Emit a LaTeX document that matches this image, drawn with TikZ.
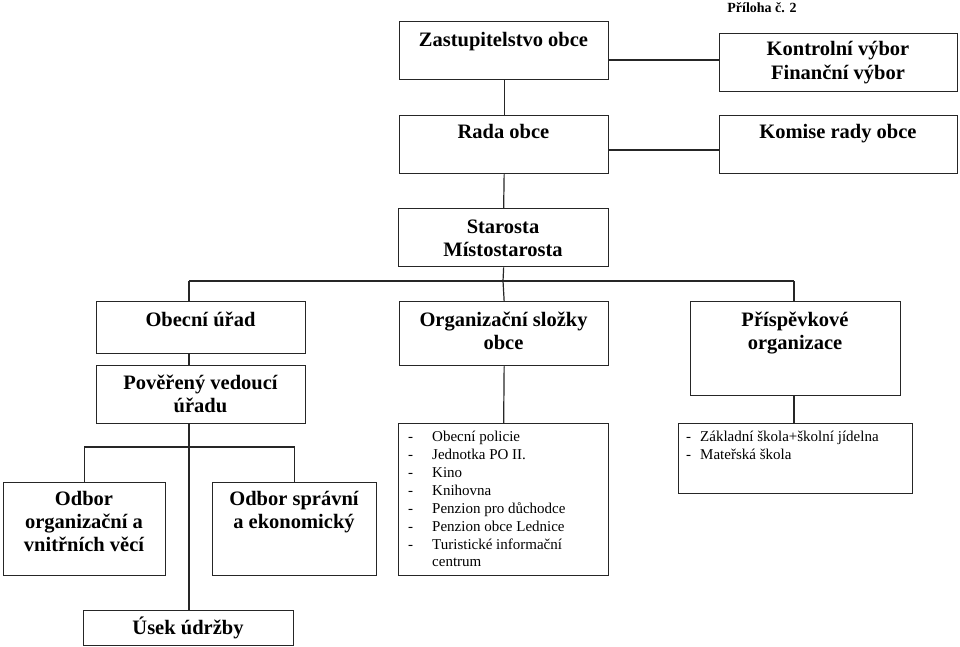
\documentclass[tikz,border=0pt]{standalone}
\usepackage{fontspec}
\setmainfont{Liberation Serif}
\begin{document}
\begin{tikzpicture}[x=1pt,y=-1pt,
  box/.style={draw=black!85,line width=1.3pt,inner sep=0pt,anchor=north west,fill=white},
  ttl/.style={font=\fontsize{20.5}{23}\selectfont\bfseries,anchor=base,inner sep=0pt},
  lst/.style={font=\fontsize{15}{17.9}\selectfont,anchor=north west,inner sep=0pt,align=left},
  con/.style={draw=black!85,line width=1.2pt}]
\useasboundingbox (0,0) rectangle (960,647);
% boxes
\node[box,minimum width=209pt,minimum height=58pt] (zast) at (399,21) {};
\node[box,minimum width=238pt,minimum height=58pt] (kontr) at (719,33) {};
\node[box,minimum width=209pt,minimum height=58pt] (rada) at (399,115) {};
\node[box,minimum width=238pt,minimum height=58pt] (komise) at (719,115) {};
\node[box,minimum width=210pt,minimum height=58pt] (staro) at (398,208) {};
\node[box,minimum width=209pt,minimum height=52pt] (obec) at (96,301) {};
\node[box,minimum width=209pt,minimum height=64pt] (orgs) at (399,301) {};
\node[box,minimum width=210pt,minimum height=94pt] (prisp) at (690,301) {};
\node[box,minimum width=209pt,minimum height=58pt] (pov) at (96,365) {};
\node[box,minimum width=162pt,minimum height=93pt] (odbo) at (3,482) {};
\node[box,minimum width=164pt,minimum height=93pt] (odbs) at (212,482) {};
\node[box,minimum width=210pt,minimum height=152pt] (orglist) at (398,423) {};
\node[box,minimum width=234pt,minimum height=70pt] (prlist) at (678,423) {};
\node[box,minimum width=210pt,minimum height=35pt] (usek) at (83,610) {};
% coordinates of connector bends
\coordinate (bus) at (503,281);
\coordinate (busL) at (189,281);
\coordinate (busR) at (794,281);
\coordinate (sub) at (189,447);
% connectors
\draw[con] (zast.south) -- (rada.north);
\draw[con] (rada.south) -- (staro.north);
\draw[con] (zast.east |- 0,60) -- (kontr.west |- 0,60);
\draw[con] (rada.east |- 0,150) -- (komise.west |- 0,150);
\draw[con] (staro.south) -- (bus);
\draw[con] (busL) -- (busR);
\draw[con] (busL) -- (busL |- obec.north);
\draw[con] (bus) -- (orgs.north);
\draw[con] (busR) -- (busR |- prisp.north);
\draw[con] (busL |- obec.south) -- (busL |- pov.north);
\draw[con] (busL |- pov.south) -- (busL |- usek.north);
\draw[con] (odbo.north) |- (sub) -| (odbs.north);
\draw[con] (orgs.south) -- (orglist.north);
\draw[con] (busR |- prisp.south) -- (busR |- prlist.north);
% texts
\node[font=\fontsize{14}{16}\selectfont\bfseries,anchor=base,inner sep=0pt] (pril) at (762,13) {Příloha č. 2};
\node[ttl] (t1) at (503.5,47) {Zastupitelstvo obce};
\node[ttl] (t2) at (838,56) {Kontrolní výbor};
\node[ttl] (t3) at (838,80) {Finanční výbor};
\node[ttl] (t4) at (503.5,139) {Rada obce};
\node[ttl] (t5) at (838,139) {Komise rady obce};
\node[ttl] (t6) at (503,233) {Starosta};
\node[ttl] (t7) at (503,256) {Místostarosta};
\node[ttl] (t8) at (200.5,326) {Obecní úřad};
\node[ttl] (t9) at (503.5,326) {Organizační složky};
\node[ttl] (t10) at (503.5,349) {obce};
\node[ttl] (t11) at (795,326) {Příspěvkové};
\node[ttl] (t12) at (795,349) {organizace};
\node[ttl] (t13) at (200.5,389) {Pověřený vedoucí};
\node[ttl] (t14) at (200.5,412) {úřadu};
\node[ttl] (t15) at (84,505) {Odbor};
\node[ttl] (t16) at (84,528) {organizační a};
\node[ttl] (t17) at (84,551) {vnitřních věcí};
\node[ttl] (t18) at (294,505) {Odbor správní};
\node[ttl] (t19) at (294,528) {a ekonomický};
\node[ttl] (t20) at (188,634) {Úsek údržby};
\node[lst] (l1) at (408,431) {\makebox[24pt][l]{-}Obecní policie\\
\makebox[24pt][l]{-}Jednotka PO II.\\
\makebox[24pt][l]{-}Kino\\
\makebox[24pt][l]{-}Knihovna\\
\makebox[24pt][l]{-}Penzion pro důchodce\\
\makebox[24pt][l]{-}Penzion obce Lednice\\
\makebox[24pt][l]{-}Turistické informační\\
\makebox[24pt][l]{}centrum};
\node[lst] (l2) at (686,431) {\makebox[14pt][l]{-}Základní škola+školní jídelna\\
\makebox[14pt][l]{-}Mateřská škola};
\end{tikzpicture}
\end{document}
